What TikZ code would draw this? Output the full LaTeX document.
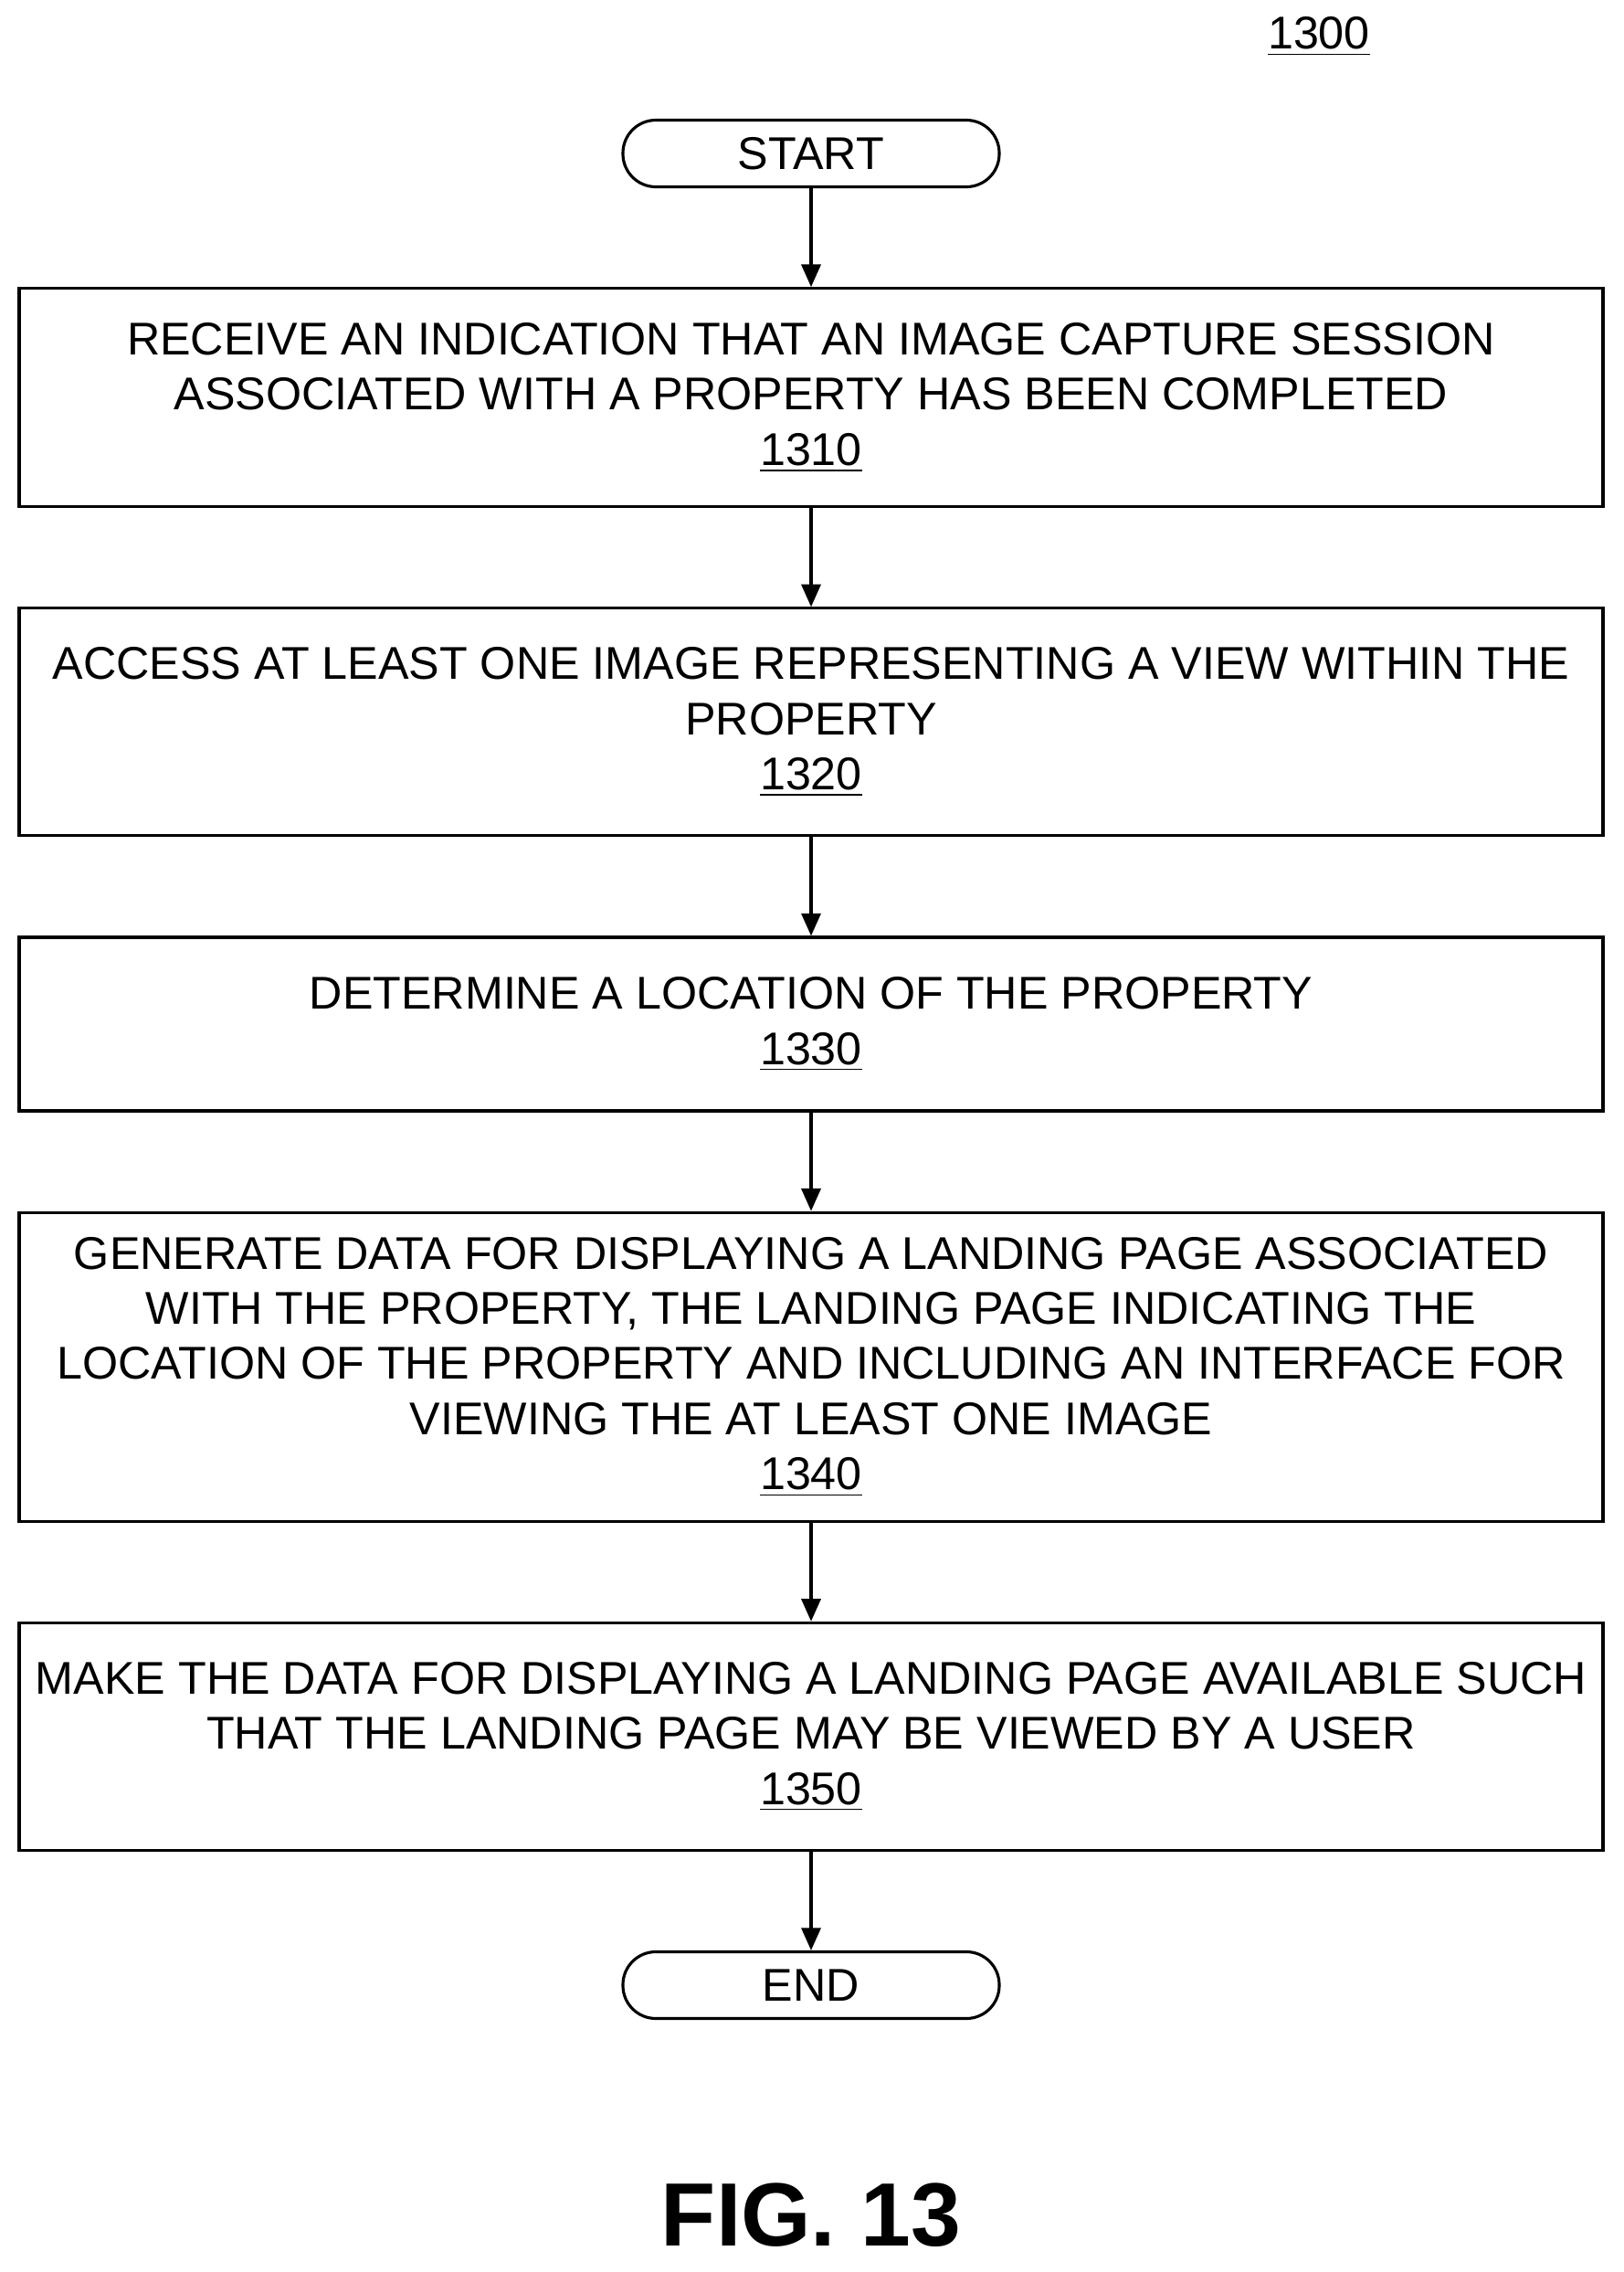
\documentclass[tikz,border=0pt]{standalone}
\usepackage{fontspec}
\setmainfont{Liberation Sans}
\usetikzlibrary{positioning,arrows.meta}
\tikzset{
  procbox/.style={draw,line width=0.9pt,minimum width=17.34cm,align=center,inner sep=2pt,
    font=\fontsize{14.3}{17.2}\selectfont},
  term/.style={draw,line width=0.9pt,rounded corners=0.36cm,minimum width=4.12cm,
    minimum height=0.73cm,font=\fontsize{14.3}{15}\selectfont},
  flow/.style={-{Triangle[length=7pt,width=6pt]},line width=0.9pt}
}
\begin{document}
\begin{tikzpicture}[node distance=1.08cm]
   \useasboundingbox (0,0) rectangle (17.78,-24.87);
   \node (num) at (14.44,-0.40) {\fontsize{14.3}{15}\selectfont\underline{1300}};
   \node[term] (start) at (8.88,-1.68) {START};
   \node[procbox,minimum height=2.39cm,below=of start] (s1310)
      {RECEIVE AN INDICATION THAT AN IMAGE CAPTURE SESSION\\ASSOCIATED WITH A PROPERTY HAS BEEN COMPLETED\\\underline{1310}};
   \node[procbox,minimum height=2.49cm,below=of s1310] (s1320)
      {ACCESS AT LEAST ONE IMAGE REPRESENTING A VIEW WITHIN THE\\PROPERTY\\\underline{1320}};
   \node[procbox,minimum height=1.90cm,below=of s1320] (s1330)
      {DETERMINE A LOCATION OF THE PROPERTY\\\underline{1330}};
   \node[procbox,minimum height=3.38cm,below=of s1330] (s1340)
      {GENERATE DATA FOR DISPLAYING A LANDING PAGE ASSOCIATED\\WITH THE PROPERTY, THE LANDING PAGE INDICATING THE\\LOCATION OF THE PROPERTY AND INCLUDING AN INTERFACE FOR\\VIEWING THE AT LEAST ONE IMAGE\\\underline{1340}};
   \node[procbox,minimum height=2.49cm,below=of s1340] (s1350)
      {MAKE THE DATA FOR DISPLAYING A LANDING PAGE AVAILABLE SUCH\\THAT THE LANDING PAGE MAY BE VIEWED BY A USER\\\underline{1350}};
   \node[term,below=of s1350] (end) {END};
   \node[font=\fontsize{28}{30}\bfseries] (fig) at (8.88,-24.25) {FIG. 13};

   \draw[flow] (start) -- (s1310);
   \draw[flow] (s1310) -- (s1320);
   \draw[flow] (s1320) -- (s1330);
   \draw[flow] (s1330) -- (s1340);
   \draw[flow] (s1340) -- (s1350);
   \draw[flow] (s1350) -- (end);
\end{tikzpicture}
\end{document}
